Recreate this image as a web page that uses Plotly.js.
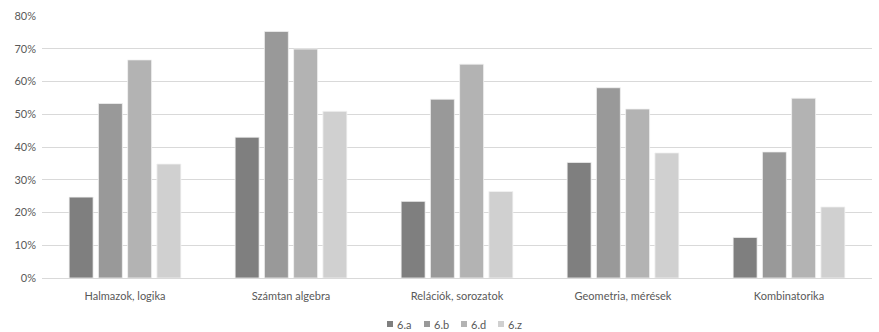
<!DOCTYPE html>
<html>
<head>
<meta charset="utf-8">
<script src="https://cdn.plot.ly/plotly-3.0.1.min.js"></script>
<style>
  html, body { margin: 0; padding: 0; background: #fff; }
  #chart { width: 879px; height: 332px; }
</style>
</head>
<body>
<div id="chart"></div>
<script>
// Témakörök
const categories = ["Halmazok, logika", "Számtan algebra", "Relációk, sorozatok", "Geometria, mérések", "Kombinatorika"];

// Osztályonkénti eredmények (arány)
const class6a = [0.247, 0.430, 0.234, 0.353, 0.124];
const class6b = [0.533, 0.753, 0.546, 0.581, 0.385];
const class6d = [0.666, 0.699, 0.653, 0.516, 0.549];
const class6z = [0.348, 0.509, 0.264, 0.382, 0.217];

const seriesNames = ["6.a", "6.b", "6.d", "6.z"];
const seriesValues = [class6a, class6b, class6d, class6z];
const seriesColors = ["#7f7f7f", "#999999", "#b3b3b3", "#d0d0d0"];

const yTicks = [0, 0.1, 0.2, 0.3, 0.4, 0.5, 0.6, 0.7, 0.8];

const traces = seriesNames.map((name, i) => ({
  type: "bar",
  name: name,
  x: categories,
  y: seriesValues[i],
  marker: { color: seriesColors[i], line: { color: "#f2f2f2", width: 0.8 } },
  hoverinfo: "x+y+name"
}));

const font = { family: "Lato, 'Open Sans', sans-serif", size: 11, color: "#595959" };

// Compact legend row under the chart: small square + series name
const legendStartPx = 387;
const legendStepPx = 37;
const legendY = 8; // px above the bottom edge of the page
const plotLeft = 42, plotRight = 879 - 7;
const toPaperX = px => (px - plotLeft) / (plotRight - plotLeft);

const shapes = [];
const annotations = [];
seriesNames.forEach((name, i) => {
  const x0 = legendStartPx + i * legendStepPx;
  shapes.push({
    type: "rect",
    xref: "paper", yref: "paper",
    x0: toPaperX(x0), x1: toPaperX(x0 + 6),
    y0: (-54 + legendY - 3) / 262, y1: (-54 + legendY + 3) / 262,
    fillcolor: seriesColors[i],
    line: { width: 0 }
  });
  annotations.push({
    xref: "paper", yref: "paper",
    x: toPaperX(x0 + 8), y: (-54 + legendY) / 262,
    xanchor: "left", yanchor: "middle",
    text: name,
    showarrow: false,
    font: font
  });
});

const layout = {
  width: 879,
  height: 332,
  margin: { l: plotLeft, r: 879 - plotRight, t: 16, b: 54 },
  paper_bgcolor: "#ffffff",
  plot_bgcolor: "#ffffff",
  font: font,
  barmode: "group",
  bargap: 0.295,
  bargroupgap: 0.18,
  showlegend: false,
  shapes: shapes,
  annotations: annotations,
  xaxis: {
    type: "category",
    showgrid: false,
    showline: true,
    linecolor: "#d9d9d9",
    linewidth: 1,
    ticks: "",
    ticklabelstandoff: 8,
    tickfont: font,
    zeroline: false
  },
  yaxis: {
    range: [0, 0.8],
    tickvals: yTicks,
    tickformat: ".0%",
    showgrid: true,
    gridcolor: "#d9d9d9",
    gridwidth: 1,
    zeroline: false,
    showline: false,
    ticks: "",
    ticklabelstandoff: 5,
    tickfont: font
  }
};

Plotly.newPlot("chart", traces, layout, { displayModeBar: false, staticPlot: true });
</script>
</body>
</html>
